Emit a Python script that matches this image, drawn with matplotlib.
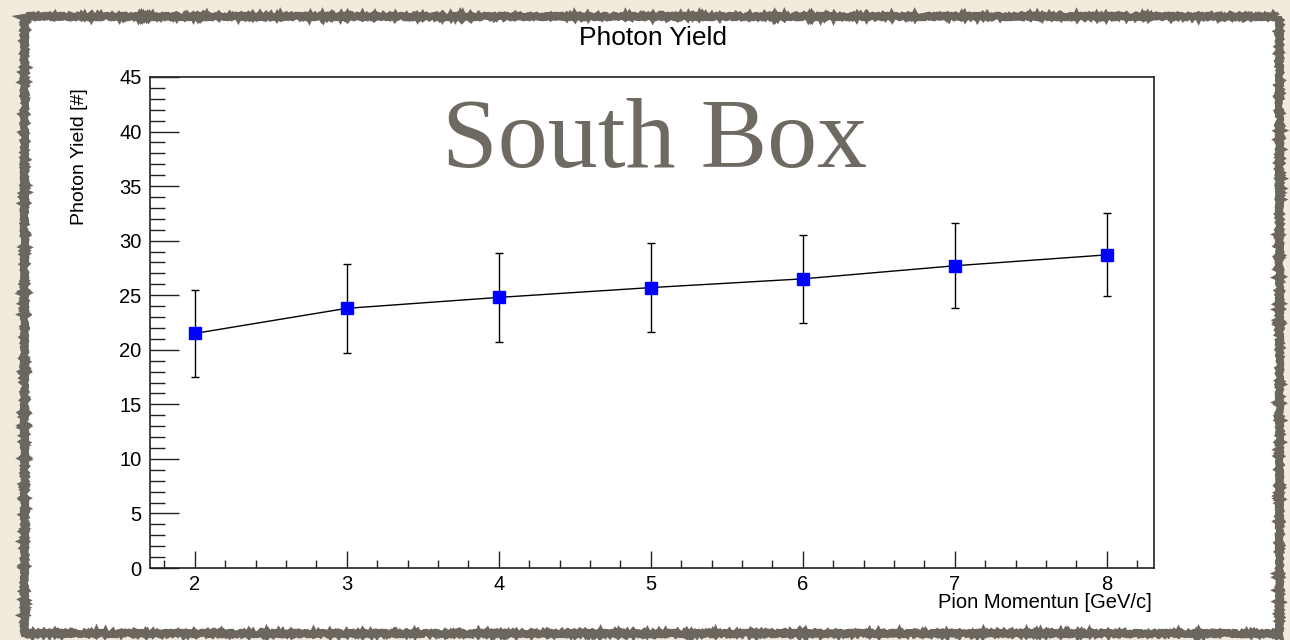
import numpy as np
import matplotlib
matplotlib.use('Agg')
import matplotlib.pyplot as plt
from matplotlib.patches import Rectangle
from matplotlib.ticker import MultipleLocator

OUTPUT = 'out.png'

momentum = [2, 3, 4, 5, 6, 7, 8]
photon_yield = [21.5, 23.8, 24.8, 25.7, 26.5, 27.7, 28.7]
yield_err = [4.0, 4.05, 4.1, 4.1, 4.0, 3.9, 3.8]

TITLE = 'Photon Yield'
XLABEL = 'Pion Momentun [GeV/c]'
YLABEL = 'Photon Yield [#]'
OVERLAY = 'South Box'

plt.rcParams['font.family'] = ['Liberation Sans', 'DejaVu Sans']

W, H = 1290, 640


def fx(px):
    return px / W


def fy(py):
    return 1 - py / H


fig = plt.figure(figsize=(12.9, 6.4), dpi=100, facecolor='#f2eadd')

# white card with a rough grey frame
card = Rectangle((fx(24), fy(633)), fx(1279) - fx(24), fy(16) - fy(633),
                 transform=fig.transFigure, facecolor='white',
                 edgecolor='#6b675e', linewidth=5, zorder=-5)
card.set_sketch_params(scale=1.2, length=3, randomness=4)
fig.patches.append(card)

ax = fig.add_axes([fx(150), fy(568), fx(1154) - fx(150), fy(77) - fy(568)])
ax.set_zorder(2)
ax.errorbar(momentum, photon_yield, yerr=yield_err, color='black',
            linewidth=1.0, elinewidth=1.0, capsize=2.8, capthick=1.0,
            marker='s', markersize=9, markerfacecolor='#0000ff',
            markeredgecolor='#0000ff', zorder=3)

ax.set_xlim(1.705, 8.31)
ax.set_ylim(0, 45)
ax.xaxis.set_major_locator(MultipleLocator(1))
ax.xaxis.set_minor_locator(MultipleLocator(0.2))
ax.yaxis.set_major_locator(MultipleLocator(5))
ax.yaxis.set_minor_locator(MultipleLocator(1))

ax.tick_params(axis='both', which='both', direction='in', top=False,
               right=False, width=1.0, color='#222222', labelsize=14.5)
ax.tick_params(axis='y', which='major', length=21, pad=6)
ax.tick_params(axis='y', which='minor', length=11)
ax.tick_params(axis='x', which='major', length=12, pad=5)
ax.tick_params(axis='x', which='minor', length=6)
for s in ax.spines.values():
    s.set_linewidth(1.2)
    s.set_color('#222222')

fig.text(fx(653), fy(38), TITLE, ha='center', va='center', fontsize=19)
fig.text(fx(80), fy(157), YLABEL, ha='center', va='center', rotation=90,
         fontsize=14)
fig.text(fx(1152), fy(602), XLABEL, ha='right', va='center', fontsize=14.5)

fig.text(fx(655), fy(167), OVERLAY, ha='center', va='baseline',
         fontsize=72, color='#6e6a61', family=['Liberation Serif', 'DejaVu Serif'],
         zorder=5)

fig.savefig(OUTPUT, dpi=100, facecolor=fig.get_facecolor())
